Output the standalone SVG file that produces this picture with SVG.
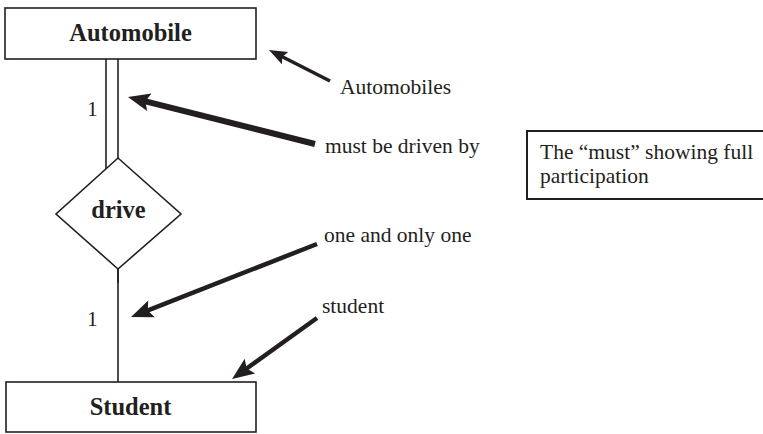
<svg xmlns="http://www.w3.org/2000/svg" width="763" height="434" viewBox="0 0 763 434">
  <style>
    .box { fill: #ffffff; stroke: #231f20; stroke-width: 1.6; }
    .link { fill: none; stroke: #231f20; stroke-width: 1.6; }
    .title { font-family: "Liberation Serif", "Times New Roman", serif; font-weight: bold; font-size: 24.5px; fill: #231f20; text-anchor: middle; }
    .label { font-family: "Liberation Serif", "Times New Roman", serif; font-size: 21.5px; fill: #231f20; }
    .arrow { fill: none; stroke: #231f20; stroke-linecap: butt; }
  </style>
  <defs>
    <marker id="head" markerUnits="userSpaceOnUse" markerWidth="22" markerHeight="18" refX="10" refY="9" orient="auto" overflow="visible">
      <path d="M0,0 L22,9 L0,18 L4,9 Z" fill="#231f20"/>
    </marker>
    <marker id="head-s" markerUnits="userSpaceOnUse" markerWidth="18" markerHeight="14" refX="8" refY="7" orient="auto" overflow="visible">
      <path d="M0,0 L18,7 L0,14 L3,7 Z" fill="#231f20"/>
    </marker>
  </defs>

  <!-- relationship lines -->
  <g id="connectors">
    <line class="link" x1="106" y1="59" x2="106" y2="169"/>
    <line class="link" x1="118" y1="59" x2="118" y2="158"/>
    <line class="link" x1="118" y1="269" x2="118" y2="382"/>
    <line class="link" x1="118" y1="269" x2="118" y2="283" stroke-width="2.6"/>
  </g>

  <g id="automobile">
    <rect class="box" x="5" y="8" width="251" height="51"/>
    <text class="title" x="130.5" y="41">Automobile</text>
  </g>

  <g id="drive">
    <polygon class="box" points="118,158 181,214 118,269 56,214"/>
    <text class="title" x="118.5" y="218">drive</text>
  </g>

  <g id="student">
    <rect class="box" x="6" y="382" width="250" height="50"/>
    <text class="title" x="130.5" y="415">Student</text>
  </g>

  <!-- cardinalities -->
  <g id="cardinality">
    <text class="label" x="87" y="116">1</text>
    <text class="label" x="87" y="326">1</text>
  </g>

  <!-- annotations -->
  <g id="annotations">
    <line class="arrow" x1="330" y1="81" x2="277.9" y2="54.5" stroke-width="3.6" marker-end="url(#head-s)"/>
    <line class="arrow" x1="315" y1="144" x2="139.6" y2="99.9" stroke-width="6" marker-end="url(#head)"/>
    <line class="arrow" x1="317" y1="244" x2="142.2" y2="312.6" stroke-width="4.5" marker-end="url(#head)"/>
    <line class="arrow" x1="317" y1="318" x2="241.8" y2="372" stroke-width="4.5" marker-end="url(#head)"/>
    <text class="label" x="340" y="94">Automobiles</text>
    <text class="label" x="325" y="153">must be driven by</text>
    <text class="label" x="324" y="242">one and only one</text>
    <text class="label" x="322" y="313">student</text>
  </g>

  <g id="note">
    <rect x="527" y="131" width="240" height="68" fill="#ffffff" stroke="#231f20" stroke-width="2"/>
    <text class="label" x="540" y="159">The “must” showing full</text>
    <text class="label" x="540" y="183">participation</text>
  </g>
</svg>
